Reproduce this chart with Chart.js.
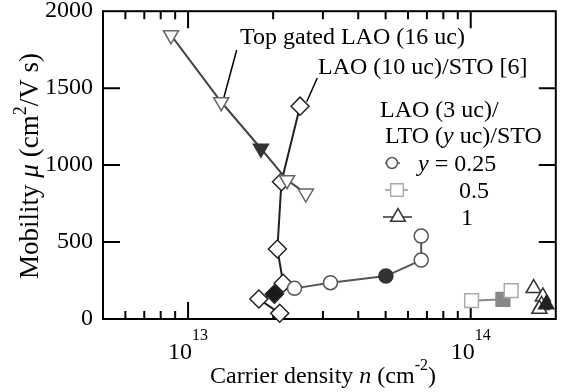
<!DOCTYPE html>
<html>
<head>
<meta charset="utf-8">
<script src="https://cdn.jsdelivr.net/npm/chart.js@4"></script>
<style>
  html, body { margin: 0; padding: 0; background: #fff; }
  #wrap { width: 567px; height: 392px; }
</style>
</head>
<body>
<div id="wrap"><canvas id="chart" width="567" height="392"></canvas></div>
<script>
// carrier density n (cm^-2) and mobility mu (cm^2/V s)
const gatedN  = [8.7e12, 1.31e13, 1.81e13, 2.24e13, 2.61e13];
const gatedMu = [1845, 1410, 1108, 903, 816];

const lao10N  = [2.49e13, 2.14e13, 2.07e13, 2.17e13, 2.02e13, 1.78e13, 2.11e13];
const lao10Mu = [1383, 892, 455, 232, 162, 130, 37];

const lto025N  = [2.38e13, 3.19e13, 5.01e13, 6.68e13, 6.68e13];
const lto025Mu = [199, 236, 279, 383, 539];

const lto05N  = [1.007e14, 1.30e14, 1.39e14];
const lto05Mu = [119, 128, 184];

const lto1N  = [1.67e14, 1.80e14, 1.78e14, 1.75e14, 1.85e14];
const lto1Mu = [200, 145, 90, 65, 95];

const yTicks = [0, 500, 1000, 1500, 2000];
const xDecades = [13, 14];
const xMin = 5e12, xMax = 2e14;

const SERIF = '"Liberation Serif", "Times New Roman", serif';
const FS = 24;

function pts(ns, mus) {
    return ns.map((n, i) => ({ x: n, y: mus[i] }));
}

// open markers, one filled marker per series
function fillAt(k, dark) {
    return ctx => ctx.dataIndex === k ? dark : '#fff';
}
function edgeAt(k, dark, edge) {
    return ctx => ctx.dataIndex === k ? dark : edge;
}

// text with italic / superscript pieces
function richText(ctx, segs, x, y, size, align) {
    const fontFor = s => (s.it ? 'italic ' : '') + (s.sup ? Math.round(size * 0.68) : size) + 'px ' + SERIF;
    let w = 0;
    segs.forEach(s => { ctx.font = fontFor(s); w += ctx.measureText(s.t).width; });
    let cx = align === 'center' ? x - w / 2 : (align === 'right' ? x - w : x);
    ctx.textAlign = 'left';
    ctx.textBaseline = 'alphabetic';
    segs.forEach(s => {
        ctx.font = fontFor(s);
        ctx.fillText(s.t, cx, s.sup ? y - size * (s.up || 0.45) : y);
        cx += ctx.measureText(s.t).width;
    });
}

const framePlugin = {
    id: 'frame',
    beforeDatasetsDraw(chart) {
        const ctx = chart.ctx;
        const { left, right, top, bottom } = chart.chartArea;
        const xs = chart.scales.x, ys = chart.scales.y;
        ctx.save();
        ctx.strokeStyle = '#000';
        ctx.lineWidth = 2;
        ctx.strokeRect(left, top, right - left, bottom - top);
        ctx.beginPath();
        // log ticks, pointing inward, top and bottom
        for (let d = 12; d <= 14; d++) {
            for (let m = 1; m <= 9; m++) {
                const v = m * Math.pow(10, d);
                if (v <= xMin || v > 1e14) continue;
                const px = xs.getPixelForValue(v);
                const len = m === 1 ? 17 : 8;
                ctx.moveTo(px, bottom); ctx.lineTo(px, bottom - len);
                ctx.moveTo(px, top); ctx.lineTo(px, top + len);
            }
        }
        yTicks.forEach(v => {
            if (v === 0 || v === 2000) return;
            const py = ys.getPixelForValue(v);
            ctx.moveTo(left, py); ctx.lineTo(left + 17, py);
            ctx.moveTo(right, py); ctx.lineTo(right - 17, py);
        });
        ctx.stroke();
        ctx.restore();
    },
    afterDraw(chart) {
        const ctx = chart.ctx;
        const { left, right, top, bottom } = chart.chartArea;
        const xs = chart.scales.x;
        ctx.save();
        ctx.fillStyle = '#000';

        // x tick labels 10^13, 10^14
        xDecades.forEach(d => {
            const px = xs.getPixelForValue(Math.pow(10, d));
            richText(ctx, [{ t: '10' }, { t: String(d), sup: true, up: 0.8 }], px, 359, FS, 'center');
        });

        // axis titles
        richText(ctx, [{ t: 'Carrier density ' }, { t: 'n', it: true }, { t: ' (cm' },
            { t: '-2', sup: true, up: 0.55 }, { t: ')' }], 323, 383, FS, 'center');
        ctx.save();
        ctx.translate(38, 166);
        ctx.rotate(-Math.PI / 2);
        richText(ctx, [{ t: 'Mobility ' }, { t: 'μ', it: true }, { t: ' (cm' },
            { t: '2', sup: true }, { t: '/V s)' }], 0, 0, 27, 'center');
        ctx.restore();

        // annotations
        richText(ctx, [{ t: 'Top gated LAO (16 uc)' }], 240, 44, FS, 'left');
        richText(ctx, [{ t: 'LAO (10 uc)/STO [6]' }], 318, 74, FS, 'left');
        ctx.strokeStyle = '#000';
        ctx.lineWidth = 1.5;
        ctx.beginPath();
        ctx.moveTo(236.7, 50); ctx.lineTo(224, 97);
        ctx.moveTo(317.3, 78); ctx.lineTo(306.7, 101.7);
        ctx.stroke();

        // legend
        richText(ctx, [{ t: 'LAO (3 uc)/' }], 380, 117, FS, 'left');
        richText(ctx, [{ t: 'LTO (' }, { t: 'y', it: true }, { t: ' uc)/STO' }], 385, 143, FS, 'left');
        const rows = [
            { y: 163, x0: 385, x1: 400, mx: 392, line: '#555', edge: '#555', style: 'circle', r: 5.5, label: [{ t: 'y', it: true }, { t: ' = 0.25' }], tx: 418 },
            { y: 190, x0: 385, x1: 408, mx: 397, line: '#999', edge: '#aaa', style: 'rect', r: 9, label: [{ t: '0.5' }], tx: 459 },
            { y: 217, x0: 383, x1: 412, mx: 398, line: '#333', edge: '#333', style: 'triangle', r: 8.5, label: [{ t: '1' }], tx: 461 }
        ];
        rows.forEach(r => {
            ctx.strokeStyle = r.line;
            ctx.lineWidth = 1.5;
            ctx.beginPath();
            ctx.moveTo(r.x0, r.y); ctx.lineTo(r.x1, r.y);
            ctx.stroke();
            ctx.fillStyle = '#fff';
            ctx.strokeStyle = r.edge;
            Chart.helpers.drawPoint(ctx, { pointStyle: r.style, radius: r.r, rotation: 0, borderWidth: 1.5 }, r.mx, r.y);
            ctx.fillStyle = '#000';
            richText(ctx, r.label, r.tx, r.y + 8, FS, 'left');
        });
        ctx.restore();
    }
};

const common = { clip: false, pointBorderWidth: 1.5, pointHoverRadius: 0 };

new Chart(document.getElementById('chart'), {
    type: 'scatter',
    data: {
        datasets: [
            Object.assign({
                label: 'Top gated LAO (16 uc)',
                data: pts(gatedN, gatedMu),
                showLine: true, borderColor: '#444', borderWidth: 2,
                pointStyle: 'triangle', rotation: 180, pointRadius: 8.7,
                pointBackgroundColor: fillAt(2, '#333'), pointBorderColor: edgeAt(2, '#333', '#666')
            }, common),
            Object.assign({
                label: 'y = 0.25',
                data: pts(lto025N, lto025Mu),
                showLine: true, borderColor: '#555', borderWidth: 2,
                pointStyle: 'circle', pointRadius: 7,
                pointBackgroundColor: fillAt(2, '#333'), pointBorderColor: edgeAt(2, '#333', '#555')
            }, common),
            Object.assign({
                label: '0.5',
                data: pts(lto05N, lto05Mu),
                showLine: true, borderColor: '#888', borderWidth: 2,
                pointStyle: 'rect', pointRadius: 9.7,
                pointBackgroundColor: fillAt(1, '#888'), pointBorderColor: edgeAt(1, '#888', '#aaa')
            }, common),
            Object.assign({
                label: '1',
                data: pts(lto1N, lto1Mu),
                showLine: false, borderColor: '#333',
                pointStyle: 'triangle', pointRadius: 8.7,
                pointBackgroundColor: fillAt(4, '#222'), pointBorderColor: edgeAt(4, '#222', '#333')
            }, common),
            Object.assign({
                label: 'LAO (10 uc)/STO [6]',
                data: pts(lao10N, lao10Mu),
                showLine: true, borderColor: '#222', borderWidth: 2,
                pointStyle: 'rectRot', pointRadius: 9,
                pointBackgroundColor: fillAt(4, '#1a1a1a'), pointBorderColor: '#222'
            }, common)
        ]
    },
    options: {
        responsive: false,
        animation: false,
        events: [],
        layout: { padding: { top: 11, right: 2, left: 0, bottom: 0 } },
        plugins: { legend: { display: false }, tooltip: { enabled: false } },
        scales: {
            x: {
                type: 'logarithmic', min: xMin, max: xMax,
                ticks: { display: false },
                grid: { display: false },
                border: { display: false },
                afterFit: s => { s.height = 73; s.paddingLeft = 0; s.paddingRight = 0; }
            },
            y: {
                min: 0, max: 2000,
                afterBuildTicks: s => { s.ticks = yTicks.map(v => ({ value: v })); },
                ticks: { font: { family: SERIF, size: FS }, color: '#000', padding: 10, callback: v => String(v) },
                grid: { display: false, drawTicks: false },
                border: { display: false },
                afterFit: s => { s.width = 103; s.paddingTop = 0; s.paddingBottom = 0; }
            }
        }
    },
    plugins: [framePlugin]
});
</script>
</body>
</html>
